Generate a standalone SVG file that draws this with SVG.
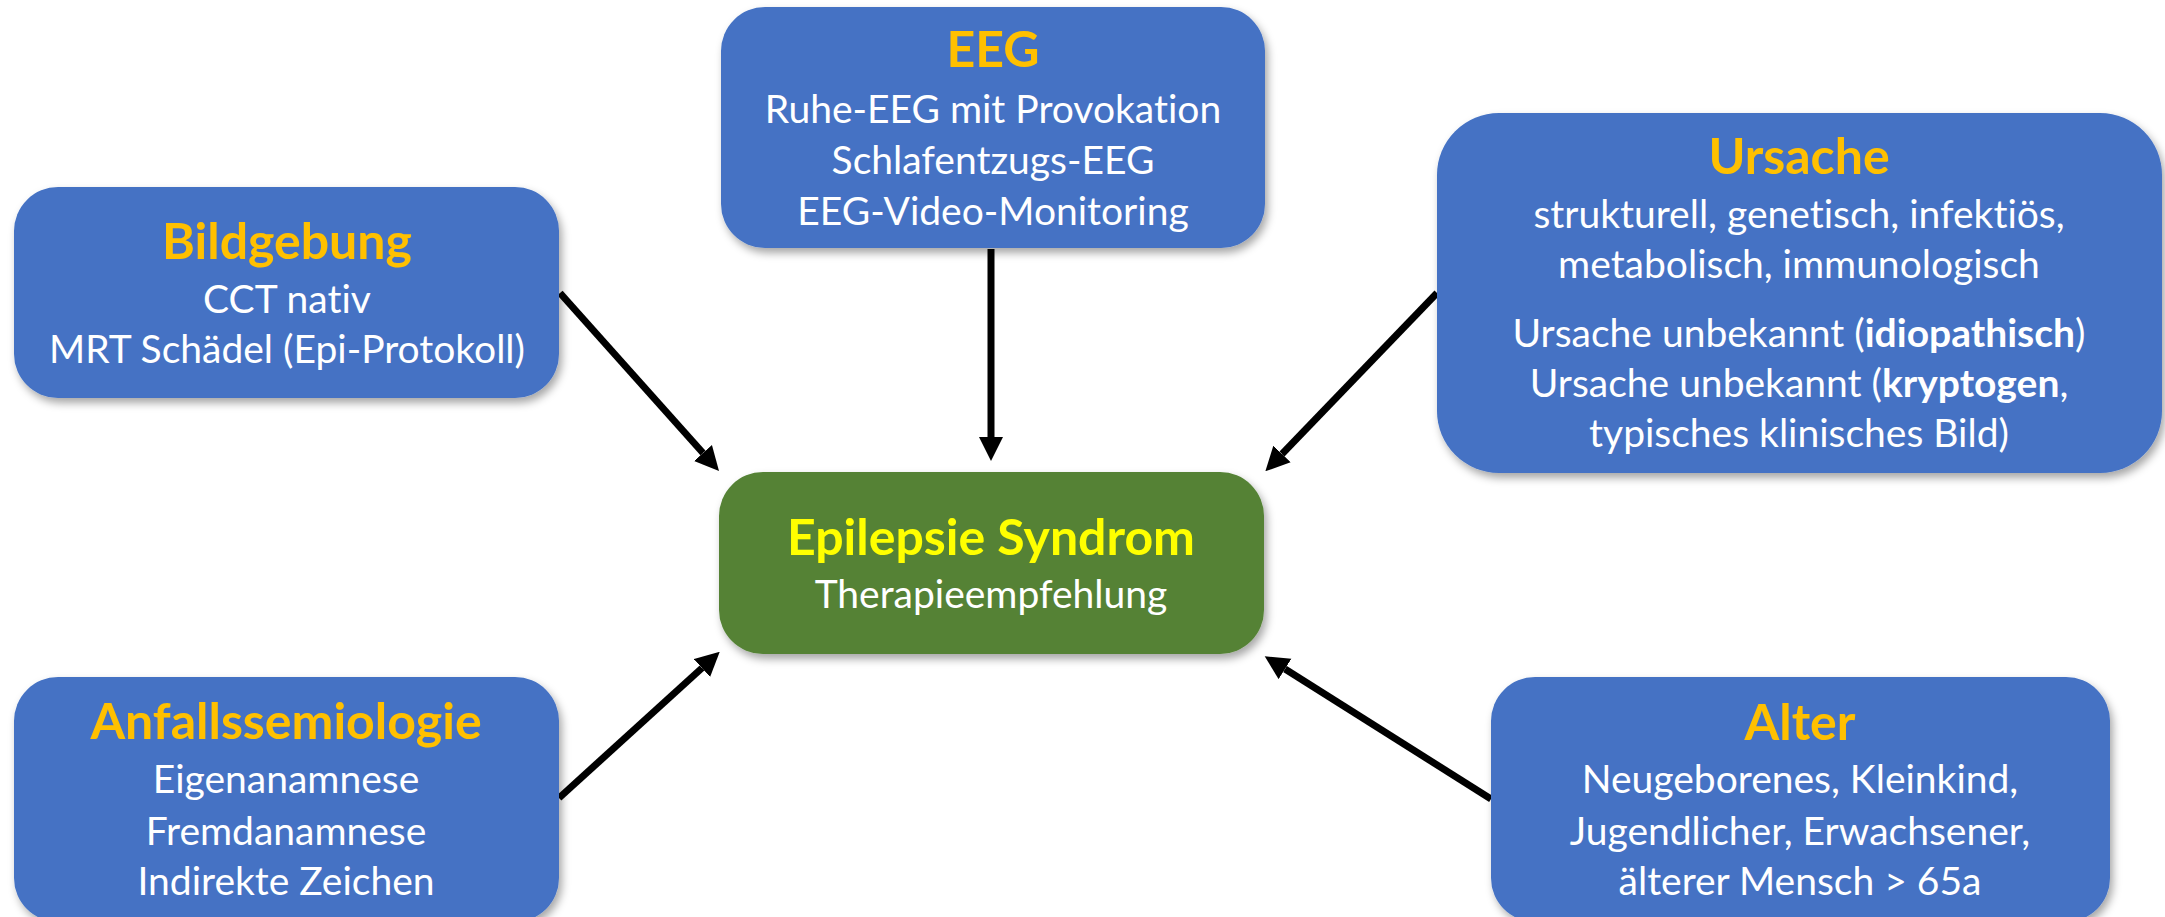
<svg xmlns="http://www.w3.org/2000/svg" width="2165" height="917" viewBox="0 0 2165 917">
<style>
.box{fill:#4472C4;filter:url(#sh);}
.green{fill:#548235;filter:url(#sh);}
.t{font-family:Lato,"Liberation Sans",sans-serif;text-anchor:middle;font-variant-ligatures:none;}
.title{font-size:50px;font-weight:bold;fill:#FFC000;}
.main{font-size:50px;font-weight:bold;fill:#FFFF00;}
.body{font-size:39px;fill:#FFFFFF;}
.b{font-weight:bold;}
.conn{stroke:#000;stroke-width:7;fill:none;marker-end:url(#ah);}
</style>
<defs>
<filter id="sh" x="-10%" y="-10%" width="125%" height="130%">
<feDropShadow dx="3" dy="5" stdDeviation="4" flood-color="#000" flood-opacity="0.35"/>
</filter>
<marker id="ah" viewBox="0 0 24 24" markerWidth="24" markerHeight="25" refX="0" refY="12" orient="auto" markerUnits="userSpaceOnUse">
<path d="M0,0 L24,12 L0,24 z" fill="#000"/>
</marker>
</defs>
<rect width="2165" height="917" fill="#FFFFFF"/>
<g id="connectors">
<line class="conn" x1="560" y1="293" x2="703" y2="453"/>
<line class="conn" x1="991" y1="249" x2="991" y2="437"/>
<line class="conn" x1="1437" y1="293" x2="1282" y2="454"/>
<line class="conn" x1="559" y1="798" x2="702" y2="668"/>
<line class="conn" x1="1491" y1="799" x2="1285" y2="669"/>
</g>
<g id="eeg">
<rect class="box" x="721" y="7" width="544" height="241" rx="44"/>
<text class="t title" x="993" y="67">EEG</text>
<text class="t body" x="993" y="123">Ruhe-EEG mit Provokation</text>
<text class="t body" x="993" y="174">Schlafentzugs-EEG</text>
<text class="t body" x="993" y="225">EEG-Video-Monitoring</text>
</g>
<g id="bildgebung">
<rect class="box" x="14" y="187" width="545" height="211" rx="44"/>
<text class="t title" x="287" y="259">Bildgebung</text>
<text class="t body" x="287" y="313">CCT nativ</text>
<text class="t body" x="287" y="363">MRT Schädel (Epi-Protokoll)</text>
</g>
<g id="ursache">
<rect class="box" x="1437" y="113" width="725" height="360" rx="62"/>
<text class="t title" x="1799" y="174">Ursache</text>
<text class="t body" x="1799" y="228">strukturell, genetisch, infektiös,</text>
<text class="t body" x="1799" y="278">metabolisch, immunologisch</text>
<text class="t body" x="1799" y="347">Ursache unbekannt (<tspan class="b">idiopathisch</tspan>)</text>
<text class="t body" x="1799" y="397">Ursache unbekannt (<tspan class="b">kryptogen</tspan>,</text>
<text class="t body" x="1799" y="447">typisches klinisches Bild)</text>
</g>
<g id="epilepsie">
<rect class="green" x="719" y="472" width="545" height="182" rx="44"/>
<text class="t main" x="991" y="555">Epilepsie Syndrom</text>
<text class="t body" x="991" y="608">Therapieempfehlung</text>
</g>
<g id="anfallssemiologie">
<rect class="box" x="14" y="677" width="545" height="245" rx="44"/>
<text class="t title" x="286" y="739">Anfallssemiologie</text>
<text class="t body" x="286" y="793">Eigenanamnese</text>
<text class="t body" x="286" y="845">Fremdanamnese</text>
<text class="t body" x="286" y="895">Indirekte Zeichen</text>
</g>
<g id="alter">
<rect class="box" x="1491" y="677" width="619" height="245" rx="44"/>
<text class="t title" x="1800" y="740">Alter</text>
<text class="t body" x="1800" y="793">Neugeborenes, Kleinkind,</text>
<text class="t body" x="1800" y="845">Jugendlicher, Erwachsener,</text>
<text class="t body" x="1800" y="895">älterer Mensch &gt; 65a</text>
</g>
</svg>
